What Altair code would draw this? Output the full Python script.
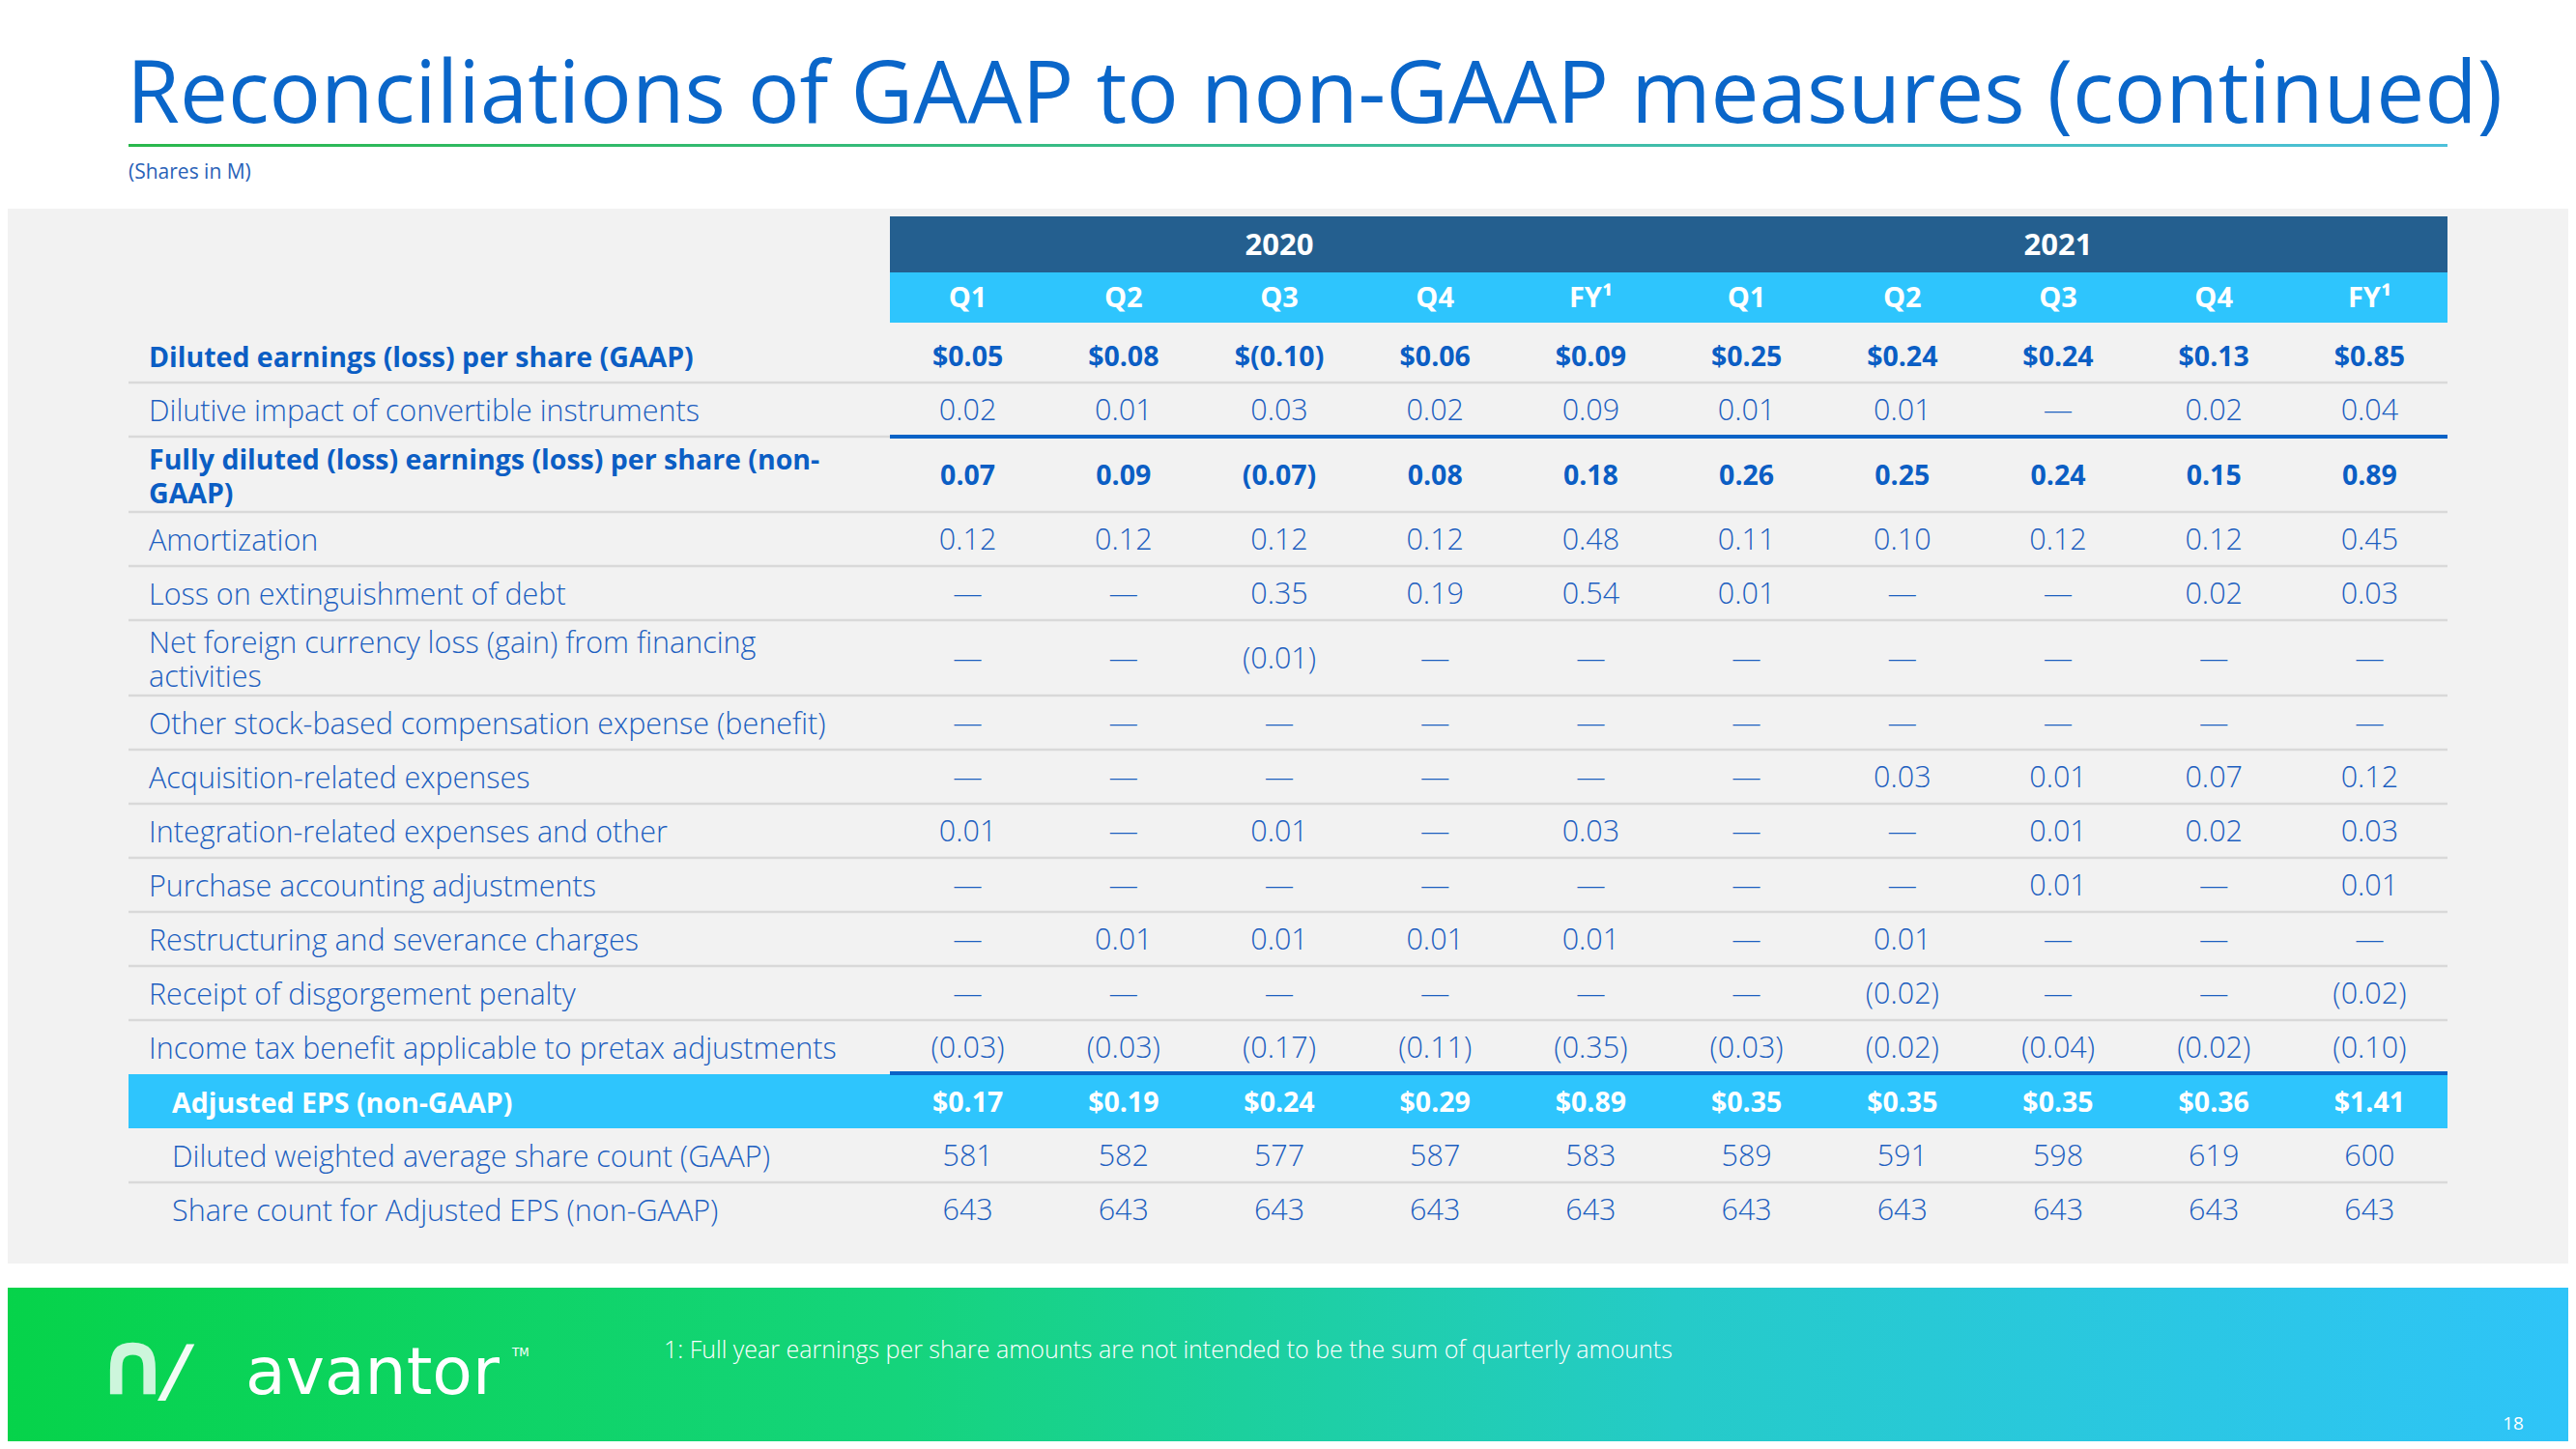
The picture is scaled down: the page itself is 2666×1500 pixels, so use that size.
import altair as alt
import pandas as pd

# ---------------- data ----------------
years = ["2020", "2021"]
quarters = ["Q1", "Q2", "Q3", "Q4", "FY¹"]

row_labels = [
    "Diluted earnings (loss) per share (GAAP)",
    "Dilutive impact of convertible instruments",
    "Fully diluted (loss) earnings (loss) per share (non-\nGAAP)",
    "Amortization",
    "Loss on extinguishment of debt",
    "Net foreign currency loss (gain) from financing\nactivities",
    "Other stock-based compensation expense (benefit)",
    "Acquisition-related expenses",
    "Integration-related expenses and other",
    "Purchase accounting adjustments",
    "Restructuring and severance charges",
    "Receipt of disgorgement penalty",
    "Income tax benefit applicable to pretax adjustments",
    "Adjusted EPS (non-GAAP)",
    "Diluted weighted average share count (GAAP)",
    "Share count for Adjusted EPS (non-GAAP)",
]
row_style = ["bold", "regular", "bold", "regular", "regular", "regular", "regular",
             "regular", "regular", "regular", "regular", "regular", "regular",
             "total", "regular", "regular"]
row_indent = [0, 0, 0, 0, 0, 0, 0, 0, 0, 0, 0, 0, 0, 1, 1, 1]

D = "—"
diluted_gaap = ["$0.05", "$0.08", "$(0.10)", "$0.06", "$0.09", "$0.25", "$0.24", "$0.24", "$0.13", "$0.85"]
dilutive_impact = ["0.02", "0.01", "0.03", "0.02", "0.09", "0.01", "0.01", D, "0.02", "0.04"]
fully_diluted = ["0.07", "0.09", "(0.07)", "0.08", "0.18", "0.26", "0.25", "0.24", "0.15", "0.89"]
amortization = ["0.12", "0.12", "0.12", "0.12", "0.48", "0.11", "0.10", "0.12", "0.12", "0.45"]
loss_extinguish = [D, D, "0.35", "0.19", "0.54", "0.01", D, D, "0.02", "0.03"]
net_fx = [D, D, "(0.01)", D, D, D, D, D, D, D]
other_sbc = [D, D, D, D, D, D, D, D, D, D]
acquisition = [D, D, D, D, D, D, "0.03", "0.01", "0.07", "0.12"]
integration = ["0.01", D, "0.01", D, "0.03", D, D, "0.01", "0.02", "0.03"]
purchase_acct = [D, D, D, D, D, D, D, "0.01", D, "0.01"]
restructuring = [D, "0.01", "0.01", "0.01", "0.01", D, "0.01", D, D, D]
disgorgement = [D, D, D, D, D, D, "(0.02)", D, D, "(0.02)"]
income_tax = ["(0.03)", "(0.03)", "(0.17)", "(0.11)", "(0.35)", "(0.03)", "(0.02)", "(0.04)", "(0.02)", "(0.10)"]
adjusted_eps = ["$0.17", "$0.19", "$0.24", "$0.29", "$0.89", "$0.35", "$0.35", "$0.35", "$0.36", "$1.41"]
share_gaap = ["581", "582", "577", "587", "583", "589", "591", "598", "619", "600"]
share_adj = ["643", "643", "643", "643", "643", "643", "643", "643", "643", "643"]

row_values = [diluted_gaap, dilutive_impact, fully_diluted, amortization, loss_extinguish,
              net_fx, other_sbc, acquisition, integration, purchase_acct, restructuring,
              disgorgement, income_tax, adjusted_eps, share_gaap, share_adj]

title_text = "Reconciliations of GAAP to non-GAAP measures (continued)"
subtitle_text = "(Shares in M)"
footnote_text = "1: Full year earnings per share amounts are not intended to be the sum of quarterly amounts"
page_text = "18"

# ---------------- layout ----------------
W, H = 2650, 1484
FONT = "Open Sans"
FS_REG = 30.5
FS_BOLD = 28.5
BLUE_T = "#0a66c9"
BLUE = "#1d5fc0"
DARK = "#245f8f"
LIGHT = "#2ec5fd"

tbl_left, tbl_right = 921, 2533
left_edge = 133
col_w = (tbl_right - tbl_left) / 10
col_x = [tbl_left + col_w * (i + 0.5) for i in range(10)]
row_top0 = 340
unit_h, extra_h = 56, 22
line_h = 35
dy = 2

rows = []
top = row_top0
for i, lab in enumerate(row_labels):
    n = lab.count("\n") + 1
    h = unit_h + extra_h * (n - 1)
    rows.append(dict(i=i, label=lab, top=top, bottom=top + h, yc=top + h / 2 + dy,
                     ly=top + h / 2 + dy + 1 - (n - 1) * line_h / 2,
                     style=row_style[i], lx=left_edge + 21 + 24 * row_indent[i]))
    top += h
rows_df = pd.DataFrame(rows)

cells = []
for r in rows:
    for j, v in enumerate(row_values[r["i"]]):
        cells.append(dict(x=col_x[j], y=r["yc"], text=v, style=r["style"]))
cells_df = pd.DataFrame(cells)

X = alt.Scale(domain=[8, 8 + W], range=[0, W], nice=False, zero=False)
Y = alt.Scale(domain=[8, 8 + H], range=[0, H], nice=False, zero=False)


def xq(f):
    return alt.X(f + ":Q", scale=X, axis=None)


def yq(f):
    return alt.Y(f + ":Q", scale=Y, axis=None)


def rect(df, **kw):
    return alt.Chart(df).mark_rect(**kw).encode(x=xq("x"), x2="x2", y=yq("y"), y2="y2")


def label(x, y, text, **kw):
    return (alt.Chart(pd.DataFrame({"x": [x], "y": [y], "text": [text]}))
            .mark_text(**kw).encode(x=xq("x"), y=yq("y"), text="text:N"))


layers = []
# gray panel
layers.append(rect(pd.DataFrame({"x": [8], "x2": [8 + W], "y": [216], "y2": [1308]}), color="#f2f2f2"))
# footer gradient
layers.append(rect(pd.DataFrame({"x": [8], "x2": [8 + W], "y": [1333], "y2": [8 + H]}),
                   color=alt.Gradient(gradient="linear",
                                      stops=[alt.GradientStop(color="#06d34a", offset=0),
                                             alt.GradientStop(color="#15d47c", offset=0.35),
                                             alt.GradientStop(color="#25cbc8", offset=0.65),
                                             alt.GradientStop(color="#2fc4f8", offset=1)],
                                      x1=0, x2=1, y1=0, y2=0)))
# title underline gradient
layers.append(rect(pd.DataFrame({"x": [left_edge], "x2": [tbl_right], "y": [149], "y2": [152]}),
                   color=alt.Gradient(gradient="linear",
                                      stops=[alt.GradientStop(color="#2ab84c", offset=0),
                                             alt.GradientStop(color="#4cc0da", offset=1)],
                                      x1=0, x2=1, y1=0, y2=0)))
# header bands
layers.append(rect(pd.DataFrame({"x": [tbl_left], "x2": [tbl_right], "y": [224], "y2": [282]}), color=DARK))
layers.append(rect(pd.DataFrame({"x": [tbl_left], "x2": [tbl_right], "y": [282], "y2": [334]}), color=LIGHT))
# adjusted EPS band
tot = rows_df[rows_df["style"] == "total"].iloc[0]
layers.append(rect(pd.DataFrame({"x": [left_edge], "x2": [tbl_right], "y": [tot["top"]], "y2": [tot["bottom"]]}), color=LIGHT))

# gray separators
gray_rows = [r for r in rows if r["i"] <= 11 or r["i"] == 14]
gray_df = pd.DataFrame({"x": left_edge, "x2": tbl_right, "y": [r["bottom"] for r in gray_rows]})
layers.append(alt.Chart(gray_df).mark_rule(color="#d9d9d9", strokeWidth=2.5).encode(x=xq("x"), x2="x2", y=yq("y")))
# blue separators
blue_df = pd.DataFrame({"x": tbl_left, "x2": tbl_right, "y": [rows[1]["bottom"], rows[12]["bottom"] - 1]})
layers.append(alt.Chart(blue_df).mark_rule(color="#0a63c6", strokeWidth=4).encode(x=xq("x"), x2="x2", y=yq("y")))

# header texts
yr_df = pd.DataFrame({"x": [col_x[2], col_x[7]], "y": [255, 255], "text": years})
layers.append(alt.Chart(yr_df).mark_text(font=FONT, fontSize=31, fontWeight="bold", color="white",
                                         align="center", baseline="middle")
              .encode(x=xq("x"), y=yq("y"), text="text:N"))
q_df = pd.DataFrame({"x": col_x, "y": [309] * 10, "text": quarters * 2})
layers.append(alt.Chart(q_df).mark_text(font=FONT, fontSize=29, fontWeight="bold", color="white",
                                        align="center", baseline="middle")
              .encode(x=xq("x"), y=yq("y"), text="text:N"))

# row labels and cells
style_fmt = {"regular": dict(fontWeight=300, color=BLUE, fontSize=FS_REG),
             "bold": dict(fontWeight="bold", color="#0b5ec4", fontSize=FS_BOLD),
             "total": dict(fontWeight="bold", color="white", fontSize=FS_BOLD)}
for st, fmt in style_fmt.items():
    sub = rows_df[rows_df["style"] == st]
    layers.append(alt.Chart(sub).mark_text(font=FONT, align="left", baseline="middle",
                                           lineBreak="\n", lineHeight=line_h, **fmt)
                  .encode(x=xq("lx"), y=yq("ly"), text="label:N"))
    subc = cells_df[cells_df["style"] == st]
    layers.append(alt.Chart(subc).mark_text(font=FONT, align="center", baseline="middle", **fmt)
                  .encode(x=xq("x"), y=yq("y"), text="text:N"))

# title & subtitle
layers.append(label(left_edge - 2, 127, title_text, font=FONT, fontSize=89, fontWeight=400, color=BLUE_T,
                    align="left", baseline="alphabetic"))
layers.append(label(left_edge, 179, subtitle_text, font=FONT, fontSize=21, fontWeight=400, color="#2a62b8",
                    align="left", baseline="middle"))

# footer texts
layers.append(label(687, 1398, footnote_text, font=FONT, fontSize=25, fontWeight=300, color="white",
                    align="left", baseline="middle"))
layers.append(label(2601, 1474, page_text, font=FONT, fontSize=19, fontWeight=400, color="white",
                    align="center", baseline="middle"))
# logo
layers.append(label(100, 1443, "∩", font="DejaVu Sans", fontSize=92, fontWeight="bold", fontStyle="italic",
                    color="white", opacity=0.8, align="left", baseline="alphabetic"))
layers.append(label(170, 1443, "/", font="DejaVu Sans", fontSize=72, fontWeight="bold", fontStyle="italic",
                    color="white", opacity=0.95, align="left", baseline="alphabetic"))
layers.append(label(254, 1443, "avantor", font="DejaVu Sans", fontSize=68, fontWeight=400, color="white",
                    align="left", baseline="alphabetic"))
layers.append(label(530, 1400, "TM", font="DejaVu Sans", fontSize=12, fontWeight=400, color="white",
                    align="left", baseline="middle"))

chart = alt.layer(*layers).properties(
    width=W, height=H, autosize=alt.AutoSizeParams(type="none"), padding=0, background="white"
).configure_view(stroke=None)

chart.save("out.html", embed_options={"renderer": "svg", "actions": False})
